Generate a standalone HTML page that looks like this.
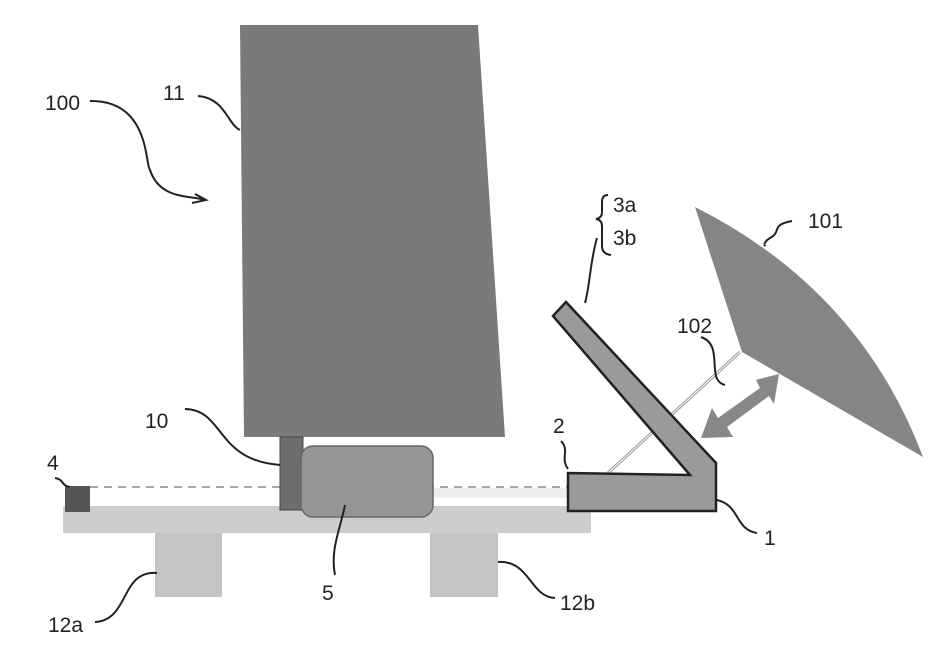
<!DOCTYPE html>
<html><head><style>html,body{margin:0;padding:0;background:#fff}svg{display:block}text{font-family:"Liberation Sans",sans-serif;font-size:21px;fill:#222}</style></head>
<body>
<svg width="941" height="656" viewBox="0 0 941 656" xmlns="http://www.w3.org/2000/svg">
<rect x="63" y="506" width="528" height="27" fill="#cdcdcd"/>
<rect x="155" y="533" width="67" height="64" fill="#c4c4c4"/>
<rect x="430" y="533" width="68" height="64" fill="#c4c4c4"/>
<rect x="430" y="488" width="140" height="10" fill="#eee"/>
<line x1="90" y1="487" x2="567" y2="487" stroke="#888" stroke-width="1.5" stroke-dasharray="8,6"/>
<rect x="65" y="486" width="25" height="26" fill="#555"/>
<polygon points="240,25 478,25 505,437 244,437" fill="#7a7a7a"/>
<rect x="280" y="437" width="23" height="73" fill="#6e6e6e" stroke="#444" stroke-width="1"/>
<rect x="301" y="446" width="132" height="71" rx="12" fill="#959595" stroke="#666" stroke-width="1.5"/>
<path d="M695,207 Q860,290 923,457 L742,352 Z" fill="#858585"/>
<line x1="608" y1="473" x2="740" y2="352" stroke="#999" stroke-width="3"/>
<line x1="608" y1="473" x2="740" y2="352" stroke="#fff" stroke-width="1"/>
<polygon points="701,438 712,408 718,418 760,388 756,380 779,374 774,404 769,396 727,427 733,437" fill="#888"/>
<polygon points="553,316 566,302 716,463 716,511 568,511 568,473 690,475" fill="#9a9a9a" stroke="#222" stroke-width="2.5"/>
<g fill="none" stroke="#222" stroke-width="2">
<path d="M90,101 C150,100 145,165 150,170 C160,200 190,195 205,200"/>
<path d="M192,203 L206,200 L195,194"/>
<path d="M198,96 C225,98 228,125 240,130"/>
<path d="M185,409 C225,410 215,460 280,465"/>
<path d="M55,478 C65,480 60,485 70,487"/>
<path d="M561,441 C570,450 560,458 568,469"/>
<path d="M597,238 C590,262 590,285 585,303"/>
<path d="M608,195 Q602,195 602,202 L602,212 Q602,218 596,219 Q602,220 602,226 L602,246 Q602,254 611,255"/>
<path d="M701,337 C725,345 705,380 725,385"/>
<path d="M792,221 C770,225 782,232 770,238 C762,243 765,247 765,245"/>
<path d="M717,500 C740,505 735,530 757,533"/>
<path d="M335,575 C330,550 340,530 345,505"/>
<path d="M95,622 C130,620 120,570 157,573"/>
<path d="M498,562 C530,560 530,597 555,598"/>
</g>
<text x="45" y="110">100</text>
<text x="163" y="100">11</text>
<text x="613" y="212">3a</text>
<text x="613" y="245">3b</text>
<text x="808" y="228">101</text>
<text x="677" y="333">102</text>
<text x="145" y="428">10</text>
<text x="47" y="470">4</text>
<text x="553" y="433">2</text>
<text x="764" y="545">1</text>
<text x="322" y="600">5</text>
<text x="48" y="632">12a</text>
<text x="560" y="610">12b</text>
</svg>
</body></html>
